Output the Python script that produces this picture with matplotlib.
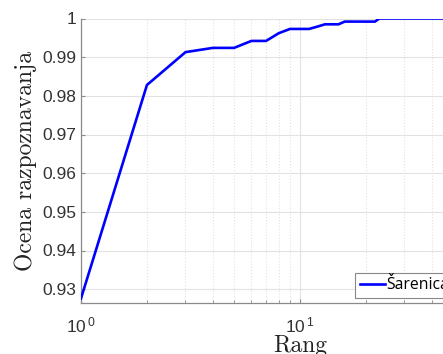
import matplotlib
matplotlib.use('Agg')
import matplotlib.pyplot as plt
import matplotlib.ticker as mticker
import numpy as np

# rank -> recognition rate
rang = [1, 2, 3, 4, 5, 6, 7, 8, 9, 10, 11, 12, 13, 14, 15, 16,
        17, 18, 19, 20, 21, 22, 23, 30, 40, 50, 60, 70, 80, 90, 100]
ocena = [0.9276, 0.9828, 0.9913, 0.9924, 0.9924, 0.9942, 0.9942, 0.9962,
         0.9973, 0.9973, 0.9973, 0.9979, 0.9985, 0.9985, 0.9985, 0.9992,
         0.9992, 0.9992, 0.9992, 0.9992, 0.9992, 0.9992, 1.0, 1.0, 1.0,
         1.0, 1.0, 1.0, 1.0, 1.0, 1.0]
yticks = [0.93, 0.94, 0.95, 0.96, 0.97, 0.98, 0.99, 1.0]
ytick_labels = ['0.93', '0.94', '0.95', '0.96', '0.97', '0.98', '0.99', '1']

plt.rcParams['mathtext.fontset'] = 'custom'
plt.rcParams['mathtext.rm'] = 'Liberation Sans'
plt.rcParams['mathtext.it'] = 'Liberation Sans'

fig = plt.figure(figsize=(4.43, 3.54), dpi=100)
W, H = 443, 354
ax = fig.add_axes([81 / W, 1 - 302.7 / H, (519 - 81) / W, (302.7 - 18.5) / H])

ax.plot(rang, ocena, color='#0000ff', linewidth=1.9, label='Šarenica', zorder=3)

ax.set_xscale('log')
ax.set_xlim(1, 100)
ax.set_ylim(0.9265, 1.0)
ax.set_yticks(yticks)
ax.set_yticklabels(ytick_labels)
ax.xaxis.set_major_formatter(mticker.FuncFormatter(
    lambda v, p: r'$\mathregular{10^{\,%d}}$' % int(round(np.log10(v)))))
ax.xaxis.set_minor_formatter(mticker.NullFormatter())

ax.grid(True, which='major', color='#e2e2e2', linewidth=0.8, linestyle='-')
ax.grid(True, which='minor', axis='x', color='#e2e2e2', linewidth=0.8, linestyle=':')
ax.set_axisbelow(True)

for s in ['top', 'right']:
    ax.spines[s].set_visible(False)
for s in ['left', 'bottom']:
    ax.spines[s].set_color('#8a8a8a')
    ax.spines[s].set_linewidth(0.9)

ax.tick_params(which='both', direction='in', colors='#8a8a8a', labelcolor='#333333',
               labelsize=12.5, labelfontfamily='Liberation Sans')
ax.tick_params(which='major', length=3)
ax.tick_params(which='minor', length=2)
ax.tick_params(axis='x', pad=9)

ax.set_ylabel('Ocena razpoznavanja', fontfamily='cmr10', fontsize=17, color='#222222', labelpad=4)
ax.set_xlabel('Rang', fontfamily='cmr10', fontsize=17, color='#222222', labelpad=0)

leg = ax.legend(loc='upper left', bbox_to_anchor=(355 / W, 1 - 272.7 / H),
                bbox_transform=fig.transFigure, fancybox=False, framealpha=1,
                edgecolor='#888888', borderpad=0.3, handlelength=1.6,
                handletextpad=0.1, borderaxespad=0,
                prop={'family': 'Open Sans', 'size': 11.3})
leg.get_frame().set_linewidth(0.8)

fig.savefig('out.png', dpi=100)
